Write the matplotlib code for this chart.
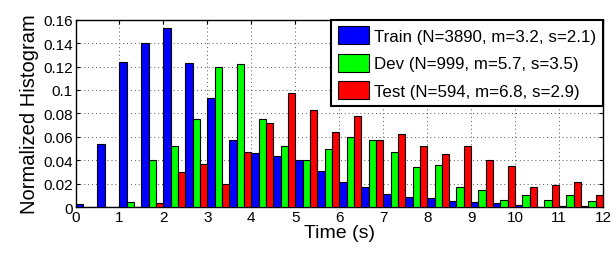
import numpy as np
import matplotlib
matplotlib.use('Agg')
import matplotlib.pyplot as plt
from matplotlib.ticker import FormatStrFormatter

plt.rcParams['font.family'] = ['Liberation Sans', 'DejaVu Sans']

# bin left edges (0.5 s bins from 0 to 12)
bin_edges = np.arange(0, 12, 0.5)

train = [0.003, 0.054, 0.124, 0.140, 0.153, 0.123, 0.0935, 0.057,
         0.046, 0.044, 0.0405, 0.031, 0.021, 0.017, 0.0114, 0.0085,
         0.0078, 0.0052, 0.0044, 0.0034, 0.0017, 0.0003, 0.001, 0.0006]
dev = [0.0, 0.0, 0.004, 0.040, 0.052, 0.075, 0.120, 0.122,
       0.075, 0.052, 0.040, 0.050, 0.060, 0.057, 0.047, 0.034,
       0.036, 0.017, 0.015, 0.006, 0.010, 0.006, 0.010, 0.005]
test = [0.0, 0.0, 0.0, 0.0034, 0.030, 0.037, 0.020, 0.047,
        0.072, 0.097, 0.0825, 0.064, 0.0775, 0.057, 0.062, 0.052,
        0.0455, 0.052, 0.040, 0.0353, 0.017, 0.0186, 0.0218, 0.010]

labels = ['Train (N=3890, m=3.2, s=2.1)',
          'Dev (N=999, m=5.7, s=3.5)',
          'Test (N=594, m=6.8, s=2.9)']
colors = ['#0000ff', '#00ff00', '#ff0000']

fig = plt.figure(figsize=(6.16, 2.55), dpi=100)
ax = fig.add_axes([0.1226, 0.184, 0.9789 - 0.1226, 0.919 - 0.184])

w = 0.5 / 3
for i, (vals, c, lab) in enumerate(zip([train, dev, test], colors, labels)):
    ax.bar(bin_edges + i * w, vals, width=w, align='edge', color=c,
           edgecolor='black', linewidth=0.8, label=lab, zorder=3)

ax.set_xlim(0, 12)
ax.set_ylim(0, 0.16)
ax.set_xticks(np.arange(0, 13, 1))
ax.set_yticks(np.arange(0, 0.161, 0.02))
ax.yaxis.set_major_formatter(FormatStrFormatter('%g'))
ax.tick_params(direction='in', top=True, right=True, labelsize=11,
               length=3, width=0.8, pad=2)
ax.grid(True, linestyle=(0, (1, 3)), color='#555555', linewidth=0.7, zorder=0)
for s in ax.spines.values():
    s.set_linewidth(1.0)

ax.set_xlabel('Time (s)', fontsize=14, labelpad=0)
ax.set_ylabel('Normalized Histogram', fontsize=14.5, labelpad=3)

leg = ax.legend(loc='upper right', bbox_to_anchor=(1, 1), borderaxespad=0,
                fontsize=12.2, fancybox=False, framealpha=1,
                handlelength=1.85, handleheight=1.25, handletextpad=0.3,
                labelspacing=0.55, borderpad=0.4)
leg.get_frame().set_edgecolor('black')
leg.get_frame().set_linewidth(1.5)
leg.set_zorder(5)

fig.savefig('out.png', dpi=100)
